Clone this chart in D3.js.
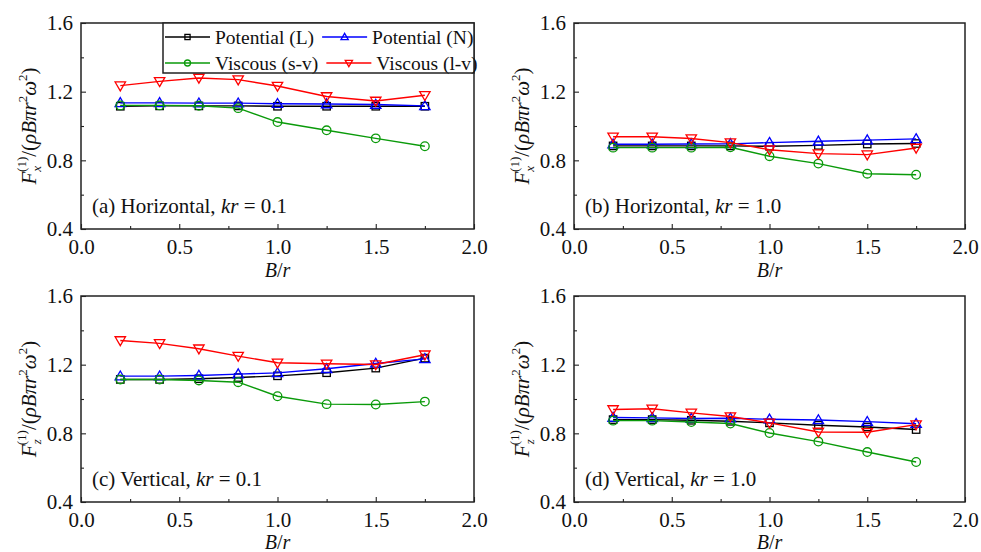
<!DOCTYPE html>
<html>
<head>
<meta charset="utf-8">
<script src="https://cdn.jsdelivr.net/npm/d3@7"></script>
<style>
  body { margin: 0; background: #fff; }
  svg text { font-family: "Liberation Serif", "Times New Roman", serif; fill: #111; }
</style>
</head>
<body>
<div id="chart"></div>
<script>
// B/r values shared by every panel
var xVals = [0.2, 0.4, 0.6, 0.8, 1.0, 1.25, 1.5, 1.75];

// (a) horizontal, kr = 0.1
var aPotL = [1.115, 1.117, 1.117, 1.117, 1.115, 1.115, 1.115, 1.115];
var aPotN = [1.135, 1.135, 1.133, 1.133, 1.130, 1.128, 1.125, 1.117];
var aVisS = [1.120, 1.120, 1.118, 1.104, 1.023, 0.975, 0.928, 0.882];
var aVisL = [1.235, 1.260, 1.280, 1.270, 1.233, 1.172, 1.146, 1.179];

// (b) horizontal, kr = 1.0
var bPotL = [0.884, 0.884, 0.884, 0.884, 0.882, 0.887, 0.895, 0.898];
var bPotN = [0.894, 0.894, 0.895, 0.896, 0.903, 0.911, 0.918, 0.925];
var bVisS = [0.874, 0.874, 0.874, 0.876, 0.824, 0.781, 0.722, 0.716];
var bVisL = [0.937, 0.937, 0.927, 0.903, 0.862, 0.839, 0.833, 0.872];

// (c) vertical, kr = 0.1
var cPotL = [1.114, 1.114, 1.118, 1.125, 1.135, 1.153, 1.180, 1.238];
var cPotN = [1.133, 1.133, 1.137, 1.145, 1.152, 1.176, 1.207, 1.234];
var cVisS = [1.114, 1.114, 1.108, 1.098, 1.016, 0.970, 0.968, 0.985];
var cVisL = [1.341, 1.324, 1.293, 1.250, 1.211, 1.205, 1.201, 1.258];

// (d) vertical, kr = 1.0
var dPotL = [0.880, 0.880, 0.876, 0.870, 0.861, 0.847, 0.837, 0.822];
var dPotN = [0.892, 0.890, 0.886, 0.888, 0.882, 0.878, 0.868, 0.856];
var dVisS = [0.874, 0.874, 0.866, 0.857, 0.802, 0.752, 0.691, 0.633];
var dVisL = [0.939, 0.943, 0.919, 0.898, 0.861, 0.808, 0.806, 0.851];

var seriesNames = ["Potential (L)", "Potential (N)", "Viscous (s-v)", "Viscous (l-v)"];
var seriesColors = ["#000000", "#0000ff", "#0a9a0a", "#ff0000"];
var seriesMarkers = ["square", "triangle", "circle", "down"];

var xTicks = [0.0, 0.5, 1.0, 1.5, 2.0];
var xMinor = [0.25, 0.75, 1.25, 1.75];
var yTicks = [0.4, 0.8, 1.2, 1.6];
var yMinor = [0.6, 1.0, 1.4];

var FONT = "'Liberation Serif', 'Times New Roman', serif";

var panels = [
    {tag: "(a) Horizontal, ", kr: "0.1", sub: "x", data: [aPotL, aPotN, aVisS, aVisL], box: [81, 474, 23, 229], legend: true, titleOff: 48},
    {tag: "(b) Horizontal, ", kr: "1.0", sub: "x", data: [bPotL, bPotN, bVisS, bVisL], box: [574, 965, 23, 229], titleOff: 48},
    {tag: "(c) Vertical, ", kr: "0.1", sub: "z", data: [cPotL, cPotN, cVisS, cVisL], box: [81, 474, 296, 502], titleOff: 47},
    {tag: "(d) Vertical, ", kr: "1.0", sub: "z", data: [dPotL, dPotN, dVisS, dVisL], box: [574, 965, 296, 502], titleOff: 47}
];

var svg = d3.select("#chart").append("svg")
    .attr("width", 981)
    .attr("height", 552)
    .style("font-family", FONT);

function drawMarker(g, type, cx, cy, color, s) {
    var m;
    if (type == "square") {
        m = g.append("rect").attr("x", cx - 3.7*s).attr("y", cy - 3.7*s)
            .attr("width", 7.4*s).attr("height", 7.4*s);
    } else if (type == "circle") {
        m = g.append("circle").attr("cx", cx).attr("cy", cy).attr("r", 4.3*s);
    } else if (type == "triangle") {
        m = g.append("path").attr("d", "M" + cx + "," + (cy - 5.2*s) +
            "L" + (cx + 5.2*s) + "," + (cy + 3.7*s) + "L" + (cx - 5.2*s) + "," + (cy + 3.7*s) + "Z");
    } else {
        m = g.append("path").attr("d", "M" + cx + "," + (cy + 5.2*s) +
            "L" + (cx + 5.2*s) + "," + (cy - 3.7*s) + "L" + (cx - 5.2*s) + "," + (cy - 3.7*s) + "Z");
    }
    m.attr("fill", "none").attr("stroke", color).attr("stroke-width", 1.3);
}

function yLabel(g, sub, cx, cy) {
    var t = g.append("text")
        .attr("transform", "translate(" + cx + "," + cy + ") rotate(-90)")
        .attr("text-anchor", "middle")
        .style("font-size", "21px");
    t.append("tspan").style("font-style", "italic").text("F");
    t.append("tspan").style("font-style", "italic").style("font-size", "13px").attr("dy", 5).text(sub);
    t.append("tspan").style("font-size", "13px").attr("dx", -6).attr("dy", -15).text("(1)");
    t.append("tspan").attr("dy", 10).text("/(");
    t.append("tspan").style("font-style", "italic").text("ρBπr");
    t.append("tspan").style("font-size", "13px").attr("dy", -9).text("2");
    t.append("tspan").style("font-style", "italic").attr("dy", 9).text("ω");
    t.append("tspan").style("font-size", "13px").attr("dy", -9).text("2");
    t.append("tspan").attr("dy", 9).text(")");
}

panels.forEach(function(p) {
    var x = d3.scaleLinear().domain([0, 2]).range([p.box[0], p.box[1]]);
    var y = d3.scaleLinear().domain([0.4, 1.6]).range([p.box[3], p.box[2]]);
    var g = svg.append("g");

    // inward ticks, major and minor
    g.append("g").attr("transform", "translate(0," + p.box[3] + ")")
        .call(d3.axisBottom(x).tickValues(xTicks).tickFormat(d3.format(".1f"))
            .tickSizeInner(-5).tickSizeOuter(0).tickPadding(10));
    g.append("g").attr("transform", "translate(0," + p.box[3] + ")")
        .call(d3.axisBottom(x).tickValues(xMinor).tickFormat("").tickSizeInner(-3).tickSizeOuter(0));
    g.append("g").attr("transform", "translate(" + p.box[0] + ",0)")
        .call(d3.axisLeft(y).tickValues(yTicks).tickFormat(d3.format(".1f"))
            .tickSizeInner(-5).tickSizeOuter(0).tickPadding(8));
    g.append("g").attr("transform", "translate(" + p.box[0] + ",0)")
        .call(d3.axisLeft(y).tickValues(yMinor).tickFormat("").tickSizeInner(-3).tickSizeOuter(0));
    g.selectAll(".domain").remove();
    g.selectAll(".tick line").attr("stroke", "#222").attr("stroke-width", 1.1);
    g.selectAll(".tick text").style("font-size", "21px").attr("fill", "#111")
        .style("font-family", FONT);

    g.append("rect")
        .attr("x", p.box[0]).attr("y", p.box[2])
        .attr("width", p.box[1] - p.box[0]).attr("height", p.box[3] - p.box[2])
        .attr("fill", "none").attr("stroke", "#222").attr("stroke-width", 1.5);

    // series
    var line = d3.line().x(function(d) { return x(d[0]); }).y(function(d) { return y(d[1]); });
    p.data.forEach(function(vals, i) {
        var pts = xVals.map(function(v, j) { return [v, vals[j]]; });
        g.append("path").datum(pts).attr("d", line)
            .attr("fill", "none").attr("stroke", seriesColors[i]).attr("stroke-width", 1.4);
        pts.forEach(function(d) {
            drawMarker(g, seriesMarkers[i], x(d[0]), y(d[1]), seriesColors[i], 1);
        });
    });

    // panel tag
    var tag = g.append("text").attr("x", p.box[0] + 11).attr("y", p.box[3] - 16).style("font-size", "21px");
    tag.append("tspan").text(p.tag);
    tag.append("tspan").style("font-style", "italic").text("kr");
    tag.append("tspan").text(" = " + p.kr);

    // axis titles
    var xt = g.append("text").attr("x", (p.box[0] + p.box[1]) / 2).attr("y", p.box[3] + p.titleOff)
        .attr("text-anchor", "middle").style("font-size", "20px");
    xt.append("tspan").style("font-style", "italic").text("B");
    xt.append("tspan").text("/");
    xt.append("tspan").style("font-style", "italic").text("r");

    yLabel(g, p.sub, p.box[0] - 45, (p.box[2] + p.box[3]) / 2);

    if (p.legend) {
        var lg = g.append("g");
        lg.append("rect").attr("x", 163).attr("y", p.box[2])
            .attr("width", p.box[1] - 163).attr("height", 50)
            .attr("fill", "#fff").attr("stroke", "#222").attr("stroke-width", 1.5);
        [[0, 1], [2, 3]].forEach(function(row, r) {
            var cy = p.box[2] + 14 + r * 26;
            var cx = 165;
            row.forEach(function(i) {
                lg.append("line").attr("x1", cx).attr("x2", cx + 45).attr("y1", cy).attr("y2", cy)
                    .attr("stroke", seriesColors[i]).attr("stroke-width", 1.3);
                drawMarker(lg, seriesMarkers[i], cx + 22.5, cy, seriesColors[i], 0.7);
                var t = lg.append("text").attr("x", cx + 50).attr("y", cy + 6.5)
                    .style("font-size", "19.5px").text(seriesNames[i]);
                cx = cx + 50 + t.node().getComputedTextLength() + 8;
            });
        });
    }
});
</script>
</body>
</html>
